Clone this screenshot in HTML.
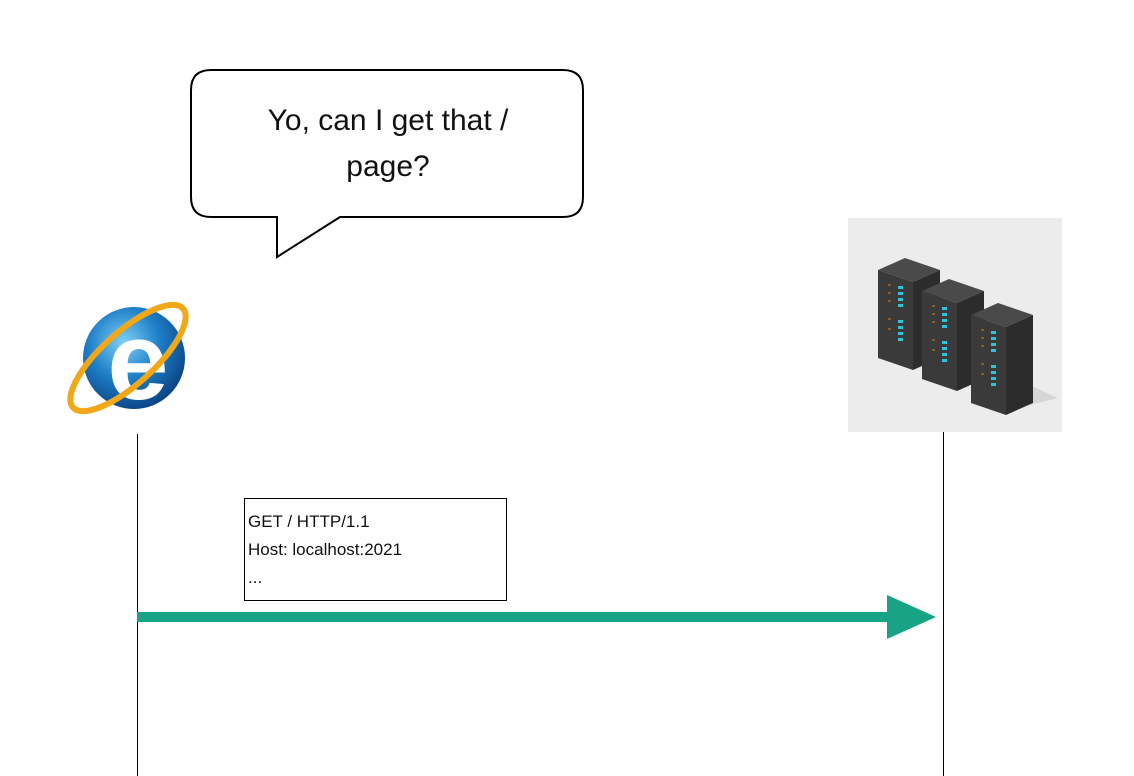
<!DOCTYPE html>
<html><head><meta charset="utf-8"><style>
html,body{margin:0;padding:0;background:#fff;}
svg{display:block;font-family:"Liberation Sans","DejaVu Sans",sans-serif;}
</style></head><body>
<svg width="1134" height="776" viewBox="0 0 1134 776" xmlns="http://www.w3.org/2000/svg">
<defs>
<radialGradient id="eg" cx="0.4" cy="0.35" r="0.7">
<stop offset="0" stop-color="#7fd0f5"/><stop offset="0.5" stop-color="#1e7fc8"/><stop offset="1" stop-color="#0a3f80"/>
</radialGradient>
<g id="tower">
<polygon points="0,12 27,0 62,12 35,24" fill="#4a4a4a"/>
<polygon points="0,12 35,24 35,112 0,100" fill="#3a3a3a"/>
<polygon points="35,24 62,12 62,100 35,112" fill="#2c2c2c"/>
<g fill="#2bc4d8">
<rect x="20" y="28" width="5" height="3"/><rect x="20" y="34" width="5" height="3"/><rect x="20" y="40" width="5" height="3"/><rect x="20" y="46" width="5" height="3"/>
<rect x="20" y="62" width="5" height="3"/><rect x="20" y="68" width="5" height="3"/><rect x="20" y="74" width="5" height="3"/><rect x="20" y="80" width="5" height="3"/>
</g>
<g fill="#8a5a30">
<rect x="10" y="26" width="3" height="2"/><rect x="10" y="34" width="3" height="2"/><rect x="10" y="42" width="3" height="2"/><rect x="10" y="60" width="3" height="2"/><rect x="10" y="70" width="3" height="2"/>
</g>
</g>
</defs>

<path d="M211,70 H563 Q583,70 583,90 V197 Q583,217 563,217 H340 L277,257 L277,217 H211 Q191,217 191,197 V90 Q191,70 211,70 Z" fill="#fff" stroke="#000" stroke-width="2"/>
<text x="388" y="130" font-size="30" text-anchor="middle" fill="#111">Yo, can I get that /</text>
<text x="388" y="176" font-size="30" text-anchor="middle" fill="#111">page?</text>

<circle cx="134" cy="358" r="51" fill="url(#eg)"/>
<text x="138" y="399" font-size="110" font-weight="bold" text-anchor="middle" fill="#fff">e</text>
<ellipse cx="128" cy="358" rx="74" ry="26" transform="rotate(-42 128 358)" fill="none" stroke="#f0a818" stroke-width="6"/>

<rect x="848" y="218" width="214" height="214" fill="#ececec"/>
<polygon points="980,395 1030,385 1058,398 1010,410" fill="#d6d6d6"/>
<use href="#tower" x="878" y="258"/>
<use href="#tower" x="922" y="279"/>
<use href="#tower" x="971" y="303"/>

<line x1="137.5" y1="434" x2="137.5" y2="776" stroke="#000" stroke-width="1"/>
<line x1="943.5" y1="432" x2="943.5" y2="776" stroke="#000" stroke-width="1"/>

<rect x="244.5" y="498.5" width="262" height="102" fill="#fff" stroke="#000" stroke-width="1"/>
<text x="248" y="527" font-size="17" fill="#111">GET / HTTP/1.1</text>
<text x="248" y="555" font-size="17" fill="#111">Host: localhost:2021</text>
<text x="248" y="583" font-size="17" fill="#111">...</text>

<line x1="137" y1="617" x2="892" y2="617" stroke="#17a384" stroke-width="10"/>
<polygon points="887,595 936,617 887,639" fill="#17a384"/>
</svg>
</body></html>
